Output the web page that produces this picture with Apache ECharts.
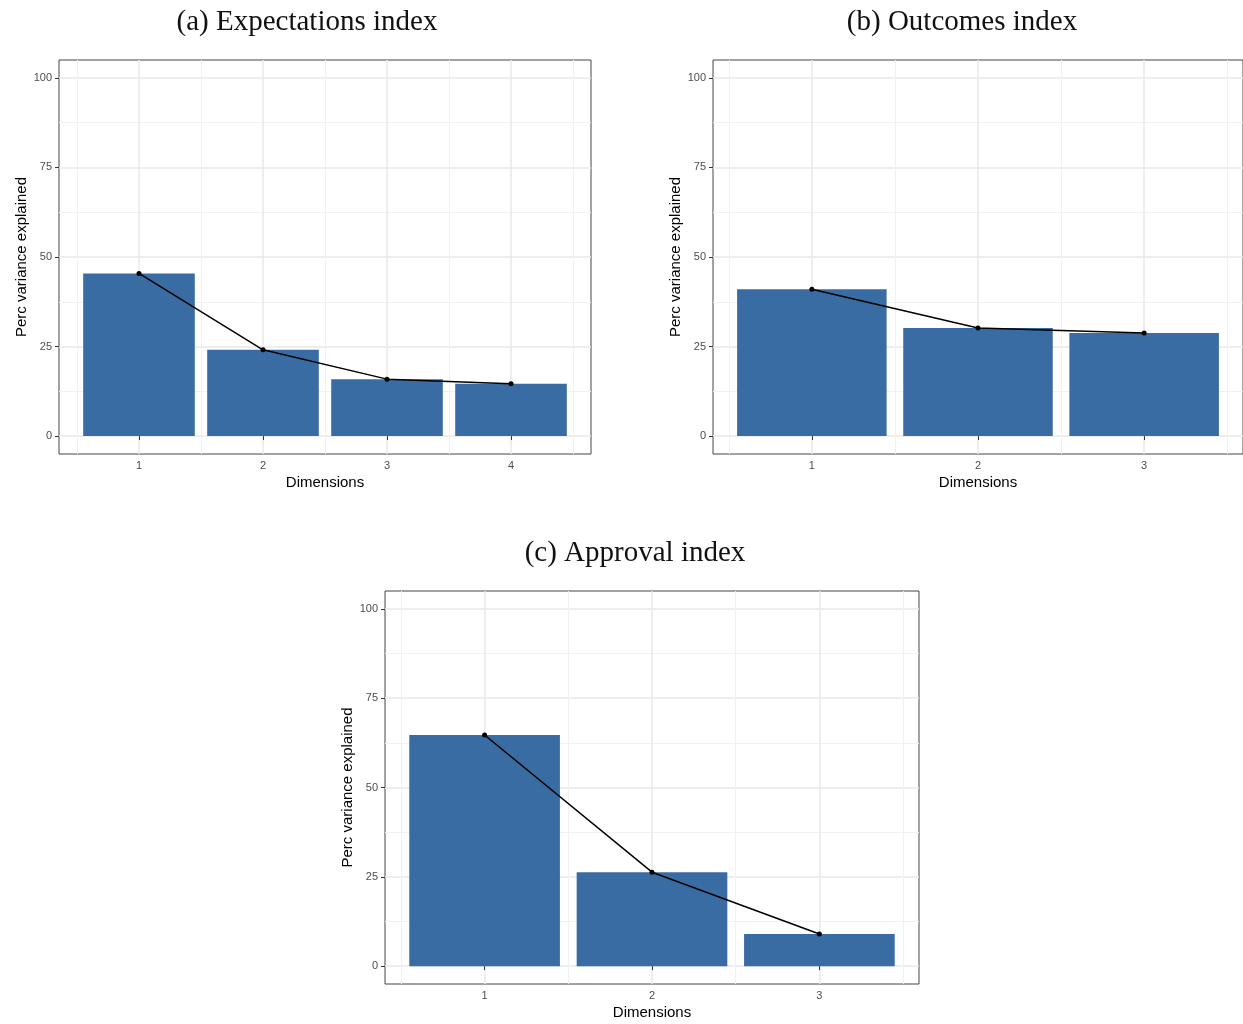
<!DOCTYPE html>
<html>
<head>
<meta charset="utf-8">
<script src="https://cdn.jsdelivr.net/npm/echarts@6/dist/echarts.min.js"></script>
<style>
html,body{margin:0;padding:0;background:#fff;}
#chart{width:1243px;height:1024px;}
</style>
</head>
<body>
<div id="chart"></div>
<script>
// ---- data ----
const titles = ['(a) Expectations index', '(b) Outcomes index', '(c) Approval index'];
const dimsA = [1, 2, 3, 4];
const expectations = [45.4, 24.1, 15.9, 14.6];
const dimsB = [1, 2, 3];
const outcomes = [41.0, 30.2, 28.8];
const dimsC = [1, 2, 3];
const approval = [64.7, 26.3, 9.0];
const yTicks = [0, 25, 50, 75, 100];
const yMinorTicks = [12.5, 37.5, 62.5, 87.5];
const yName = 'Perc variance explained';
const xName = 'Dimensions';

// ---- layout ----
const panels = [
  {dims: dimsA, vals: expectations, grid: {left: 59, top: 60, width: 532, height: 394}, tx: 302, ty: 3},
  {dims: dimsB, vals: outcomes, grid: {left: 713, top: 60, width: 533, height: 394}, tx: 957, ty: 3},
  {dims: dimsC, vals: approval, grid: {left: 385, top: 591, width: 534, height: 393}, tx: 630, ty: 534}
];

const BAR = '#3a6ca4';
const option = {
  backgroundColor: '#fff',
  animation: false,
  title: [], grid: [], xAxis: [], yAxis: [], series: []
};

panels.forEach((p, i) => {
  const n = p.dims.length;
  // continuous scale with 5% expansion around bars (width 0.9)
  const lo = p.dims[0] - 0.45, hi = p.dims[n - 1] + 0.45;
  const pad = (hi - lo) * 0.05;
  const xmin = lo - pad, xmax = hi + pad;
  const xMinor = p.dims.map(d => d - 0.5).concat([p.dims[n - 1] + 0.5]);

  option.title.push({
    text: titles[i], left: p.tx, top: p.ty, textAlign: 'center',
    textStyle: {fontFamily: 'Liberation Serif', fontSize: 29, fontWeight: 'normal', color: '#111'}
  });
  option.grid.push(Object.assign({show: true, borderColor: '#444', borderWidth: 1, backgroundColor: 'transparent', containLabel: false}, p.grid));

  const gx = i;
  option.xAxis.push({
    type: 'value', gridIndex: gx, min: xmin, max: xmax,
    name: xName, nameLocation: 'middle', nameGap: 21,
    nameTextStyle: {fontFamily: 'Liberation Sans', fontSize: 15, color: '#000'},
    axisLine: {show: false},
    axisTick: {show: true, customValues: p.dims, length: 4, lineStyle: {color: '#333', width: 1}},
    axisLabel: {customValues: p.dims, fontFamily: 'Liberation Sans', fontSize: 11, color: '#4d4d4d', margin: 6},
    splitLine: {show: true, lineStyle: {color: '#e8e8e8', width: 1.5}}
  });
  option.xAxis.push({
    type: 'value', gridIndex: gx, min: xmin, max: xmax, position: 'bottom',
    axisLine: {show: false},
    axisTick: {show: false, customValues: xMinor},
    axisLabel: {show: false, customValues: xMinor},
    splitLine: {show: true, lineStyle: {color: '#f1f1f1', width: 1}}
  });
  option.yAxis.push({
    type: 'value', gridIndex: gx, min: -5, max: 105,
    name: yName, nameLocation: 'middle', nameGap: 29,
    nameTextStyle: {fontFamily: 'Liberation Sans', fontSize: 15, color: '#000'},
    axisLine: {show: false},
    axisTick: {show: true, customValues: yTicks, length: 4, lineStyle: {color: '#333', width: 1}},
    axisLabel: {customValues: yTicks, fontFamily: 'Liberation Sans', fontSize: 11, color: '#4d4d4d', margin: 7},
    splitLine: {show: true, lineStyle: {color: '#e8e8e8', width: 1.5}}
  });
  option.yAxis.push({
    type: 'value', gridIndex: gx, min: -5, max: 105, position: 'left',
    axisLine: {show: false},
    axisTick: {show: false, customValues: yMinorTicks},
    axisLabel: {show: false, customValues: yMinorTicks},
    splitLine: {show: true, lineStyle: {color: '#f1f1f1', width: 1}}
  });

  const data = p.dims.map((d, k) => [d, p.vals[k]]);
  option.series.push({
    type: 'bar', xAxisIndex: 2 * i, yAxisIndex: 2 * i,
    data: data, barWidth: '90%',
    itemStyle: {color: BAR},
    silent: true
  });
  option.series.push({
    type: 'line', xAxisIndex: 2 * i, yAxisIndex: 2 * i,
    data: data, symbol: 'circle', symbolSize: 5,
    itemStyle: {color: '#000'}, lineStyle: {color: '#000', width: 1.5},
    silent: true, z: 5
  });
});

const chart = echarts.init(document.getElementById('chart'), null, {renderer: 'canvas'});
chart.setOption(option);
</script>
</body>
</html>
